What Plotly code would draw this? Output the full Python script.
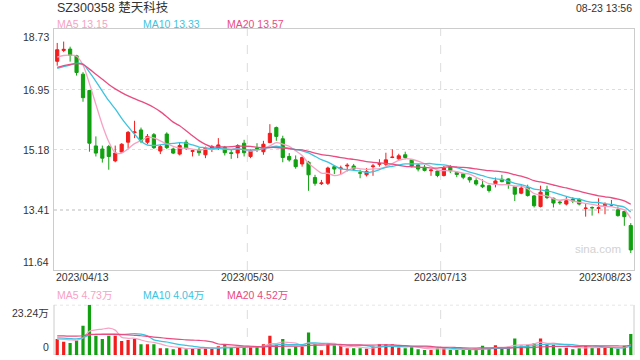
import plotly.graph_objects as go
import pandas as pd

# ---------------- data ----------------
dates = [
    "2023/04/13", "2023/04/14", "2023/04/17", "2023/04/18", "2023/04/19", "2023/04/20", "2023/04/21",
    "2023/04/24", "2023/04/25", "2023/04/26", "2023/04/27", "2023/04/28",
    "2023/05/04", "2023/05/05", "2023/05/08", "2023/05/09", "2023/05/10", "2023/05/11", "2023/05/12",
    "2023/05/15", "2023/05/16", "2023/05/17", "2023/05/18", "2023/05/19", "2023/05/22", "2023/05/23",
    "2023/05/24", "2023/05/25", "2023/05/26", "2023/05/29", "2023/05/30", "2023/05/31",
    "2023/06/01", "2023/06/02", "2023/06/05", "2023/06/06", "2023/06/07", "2023/06/08", "2023/06/09",
    "2023/06/12", "2023/06/13", "2023/06/14", "2023/06/15", "2023/06/16", "2023/06/19", "2023/06/20",
    "2023/06/21", "2023/06/26", "2023/06/27", "2023/06/28", "2023/06/29", "2023/06/30",
    "2023/07/03", "2023/07/04", "2023/07/05", "2023/07/06", "2023/07/07", "2023/07/10", "2023/07/11",
    "2023/07/12", "2023/07/13", "2023/07/14", "2023/07/17", "2023/07/18", "2023/07/19", "2023/07/20",
    "2023/07/21", "2023/07/24", "2023/07/25", "2023/07/26", "2023/07/27", "2023/07/28", "2023/07/31",
    "2023/08/01", "2023/08/02", "2023/08/03", "2023/08/04", "2023/08/07", "2023/08/08", "2023/08/09",
    "2023/08/10", "2023/08/11", "2023/08/14", "2023/08/15", "2023/08/16", "2023/08/17", "2023/08/18",
    "2023/08/21", "2023/08/22", "2023/08/23",
]

open_ = [17.78, 18.10, 18.14, 17.94, 17.40, 16.92, 15.29, 15.20, 15.27, 14.85,
         15.11, 15.40, 15.68, 15.76, 15.40, 15.62, 15.14, 15.64, 15.20, 15.05,
         15.40, 15.13, 15.17, 15.03, 15.22, 15.22, 15.25, 15.09, 15.08, 15.37,
         14.98, 15.23, 15.12, 15.39, 15.83, 15.50, 14.98, 14.88, 14.76, 14.81,
         14.36, 14.18, 14.19, 14.68, 14.62, 14.70, 14.70, 14.50, 14.44, 14.68,
         14.75, 14.75, 14.95, 14.91, 15.03, 14.88, 14.73, 14.66, 14.56, 14.55,
         14.42, 14.68, 14.51, 14.47, 14.36, 14.27, 14.14, 14.12, 14.18, 14.31,
         14.32, 14.09, 13.90, 14.07, 13.82, 13.51, 14.00, 13.75, 13.64, 13.58,
         13.72, 13.72, 13.45, 13.48, 13.45, 13.53, 13.56, 13.41, 13.36, 12.95]
high = [18.32, 18.36, 18.21, 17.97, 17.46, 16.94, 15.57, 15.30, 15.32, 15.30,
        15.37, 15.73, 16.03, 15.83, 15.64, 15.67, 15.32, 15.69, 15.24, 15.40,
        15.47, 15.17, 15.24, 15.27, 15.32, 15.52, 15.29, 15.17, 15.34, 15.47,
        15.19, 15.37, 15.44, 15.93, 15.86, 15.59, 15.08, 15.01, 14.98, 14.85,
        14.44, 14.29, 14.68, 14.70, 14.71, 14.78, 14.76, 14.59, 14.64, 14.76,
        14.90, 15.09, 15.19, 15.06, 15.12, 14.90, 14.76, 14.73, 14.61, 14.58,
        14.70, 14.73, 14.54, 14.49, 14.39, 14.34, 14.31, 14.15, 14.36, 14.44,
        14.34, 14.12, 14.17, 14.15, 13.85, 14.12, 14.12, 13.77, 13.70, 13.80,
        13.78, 13.75, 13.58, 13.51, 13.75, 13.63, 13.70, 13.51, 13.38, 13.02]
low = [17.65, 18.05, 17.77, 17.36, 16.59, 15.12, 14.98, 14.80, 14.59, 14.81,
       15.08, 15.22, 15.52, 15.37, 15.34, 15.20, 15.05, 15.20, 15.05, 15.01,
       15.17, 14.98, 15.00, 14.93, 15.11, 15.17, 15.01, 14.91, 14.93, 14.98,
       14.93, 15.11, 15.03, 15.37, 15.44, 14.81, 14.83, 14.62, 14.68, 13.97,
       14.12, 14.14, 14.14, 14.46, 14.46, 14.54, 14.57, 14.34, 14.39, 14.41,
       14.68, 14.70, 14.93, 14.88, 14.90, 14.66, 14.54, 14.54, 14.41, 14.37,
       14.39, 14.49, 14.37, 14.31, 14.21, 14.12, 14.05, 13.92, 14.07, 14.22,
       14.03, 13.67, 13.87, 13.80, 13.48, 13.48, 13.73, 13.48, 13.56, 13.54,
       13.61, 13.54, 13.21, 13.24, 13.31, 13.28, 13.51, 13.21, 12.94, 12.14]
close = [18.12, 18.13, 17.95, 17.45, 16.71, 15.37, 15.08, 14.93, 14.98, 15.08,
         15.34, 15.69, 15.70, 15.42, 15.57, 15.24, 15.27, 15.24, 15.08, 15.30,
         15.22, 15.15, 15.09, 15.22, 15.27, 15.32, 15.09, 15.07, 15.30, 15.09,
         15.15, 15.21, 15.34, 15.66, 15.57, 14.95, 14.88, 14.68, 14.95, 14.44,
         14.19, 14.20, 14.64, 14.61, 14.64, 14.72, 14.61, 14.49, 14.54, 14.70,
         14.77, 14.88, 14.96, 15.00, 14.95, 14.70, 14.61, 14.57, 14.58, 14.42,
         14.64, 14.56, 14.45, 14.37, 14.29, 14.17, 14.09, 13.98, 14.26, 14.24,
         14.17, 13.87, 14.05, 13.83, 13.53, 13.93, 13.77, 13.61, 13.62, 13.68,
         13.67, 13.58, 13.46, 13.47, 13.47, 13.57, 13.55, 13.24, 13.21, 12.23]
# volume in 万 (10k shares)
volume = [7.38, 6.12, 5.50, 6.75, 13.50, 23.24, 8.95, 7.38, 8.95, 8.95,
          6.44, 6.91, 7.38, 5.02, 5.02, 5.02, 3.14, 3.14, 2.67, 3.45,
          2.67, 3.14, 3.14, 3.14, 3.14, 4.00, 4.60, 3.45, 3.93, 3.93,
          3.93, 3.93, 5.02, 8.95, 4.71, 7.38, 2.83, 3.77, 3.77, 10.36,
          5.02, 2.20, 5.02, 4.40, 4.24, 3.14, 3.14, 3.14, 2.83, 3.93,
          5.02, 5.02, 5.02, 3.45, 3.14, 3.61, 2.67, 2.36, 2.36, 3.14,
          3.45, 2.36, 2.36, 2.36, 2.36, 2.67, 4.24, 3.14, 4.55, 3.14,
          3.80, 7.60, 4.40, 4.70, 5.40, 7.60, 4.90, 4.70, 3.00, 3.30,
          2.60, 3.10, 4.50, 3.40, 3.30, 3.20, 3.50, 2.90, 4.30, 9.75]

# moving-average values before each window is full
ma5_head = [17.90, 17.95, 17.96, 17.93]
ma10_head = [17.57, 17.62, 17.67, 17.72, 17.70, 17.46, 17.19, 16.90, 16.62]
ma20_head = [17.60, 17.65, 17.69, 17.71, 17.69, 17.55, 17.40, 17.25, 17.10, 16.97,
             16.86, 16.76, 16.68, 16.60, 16.52, 16.42, 16.30, 16.15, 15.99]
vma5_head = [7.3, 7.2, 7.0, 6.9]
vma10_head = [7.9, 7.8, 7.6, 7.5, 8.0, 9.3, 9.5, 9.6, 9.7]
vma20_head = [8.8, 8.8, 8.7, 8.7, 8.9, 9.5, 9.5, 9.5, 9.5, 9.5,
              9.4, 9.3, 9.1, 8.9, 8.6, 8.3, 8.0, 7.7, 7.45]

# legend values as printed on the chart
price_ma_labels = ["MA5", "MA10", "MA20"]
price_ma_last = [13.15, 13.33, 13.57]
vol_ma_last = [4.73, 4.04, 4.52]
price_ticks = [18.73, 16.95, 15.18, 13.41, 11.64]
vol_top = 23.24
xtick_idx = [0, 30, 60, 89]
title = "SZ300358 楚天科技"
stamp = "08-23 13:56"

# ---------------- styling ----------------
RED = "#f21d1d"
GREEN = "#10a010"
MA_COLORS = ["#f7a2c3", "#3cc3df", "#ea4b80"]
FONT = "Liberation Sans, Arial, Noto Sans CJK SC, sans-serif"
TXT = "#333333"
FRAME = "#cccccc"
GRID = "#dddddd"

W_FIG, H_FIG = 640, 360
L, R, T, B = 54, 6, 29, 5
PW, PH = W_FIG - L - R, H_FIG - T - B


def px(x):
    return (x - L) / PW


def py(y):
    return (H_FIG - B - y) / PH


def with_head(values, n, head):
    out = pd.Series(values).rolling(n).mean().tolist()
    for i, v in enumerate(head):
        out[i] = v
    return out


ma_price = [with_head(close, 5, ma5_head), with_head(close, 10, ma10_head),
            with_head(close, 20, ma20_head)]
ma_vol = [with_head(volume, 5, vma5_head), with_head(volume, 10, vma10_head),
          with_head(volume, 20, vma20_head)]

fig = go.Figure()

fig.add_trace(go.Candlestick(
    x=dates, open=open_, high=high, low=low, close=close,
    increasing=dict(line=dict(color=RED, width=1), fillcolor=RED),
    decreasing=dict(line=dict(color=GREEN, width=1), fillcolor=GREEN),
    whiskerwidth=0, xaxis="x", yaxis="y", hoverinfo="skip",
))
for vals, col in zip(ma_price, MA_COLORS):
    fig.add_trace(go.Scatter(x=dates, y=vals, mode="lines",
                             line=dict(color=col, width=1.3, shape="spline", smoothing=0.8),
                             xaxis="x", yaxis="y", hoverinfo="skip"))

bar_colors = [RED if c >= o else GREEN for o, c in zip(open_, close)]
fig.add_trace(go.Bar(x=dates, y=volume, marker=dict(color=bar_colors, line=dict(width=0)),
                     xaxis="x2", yaxis="y2", hoverinfo="skip"))
for vals, col in zip(ma_vol, MA_COLORS):
    fig.add_trace(go.Scatter(x=dates, y=vals, mode="lines",
                             line=dict(color=col, width=1.2, shape="spline", smoothing=0.8),
                             xaxis="x2", yaxis="y2", hoverinfo="skip"))

main_dom = [py(270), 1.0]
vol_dom = [0.0, py(304.7)]
n = len(dates)
xr = [-0.5, n - 0.5]

fig.update_layout(
    width=W_FIG, height=H_FIG,
    margin=dict(l=L, r=R, t=T, b=B),
    paper_bgcolor="white", plot_bgcolor="white",
    showlegend=False, bargap=0.5, boxgap=0.3,
    font=dict(family=FONT, size=11, color=TXT),
    xaxis=dict(domain=[0, 1], type="category", range=xr, anchor="y",
               showticklabels=False, ticks="", showgrid=False, zeroline=False,
               showline=True, mirror=True, linecolor=FRAME, linewidth=1,
               rangeslider=dict(visible=False), fixedrange=True),
    yaxis=dict(domain=main_dom, range=[price_ticks[-1], price_ticks[0]], anchor="x",
               tickmode="array", tickvals=price_ticks[1:-1], showticklabels=False, ticks="",
               showgrid=True, gridcolor=GRID, griddash="dot", gridwidth=1.5, zeroline=False,
               showline=True, mirror=True, linecolor=FRAME, linewidth=1, fixedrange=True),
    xaxis2=dict(domain=[0, 1], type="category", range=xr, anchor="y2",
                showticklabels=False, ticks="", showgrid=False, zeroline=False,
                showline=False, fixedrange=True),
    yaxis2=dict(domain=vol_dom, range=[0, vol_top], anchor="x2",
                showticklabels=False, ticks="", showgrid=False, zeroline=False,
                showline=False, fixedrange=True),
)

shapes = []
# vertical dashed date separators (between candles)
for k in xtick_idx[1:-1]:
    for xa, ya in (("x", "y"), ("x2", "y2")):
        top = price_ticks[0] if ya == "y" else vol_top
        shapes.append(dict(type="line", xref=xa, yref=ya, x0=k - 0.5, x1=k - 0.5,
                           y0=0 if ya == "y2" else price_ticks[-1], y1=top,
                           line=dict(color=GRID, width=1, dash="dash"), layer="below"))
# volume panel frame
shapes.append(dict(type="line", xref="paper", yref="y2", x0=0, x1=0, y0=0, y1=vol_top,
                   line=dict(color=FRAME, width=1)))
shapes.append(dict(type="line", xref="paper", yref="y2", x0=1, x1=1, y0=0, y1=vol_top,
                   line=dict(color=FRAME, width=1)))
for yv in (0, vol_top):
    shapes.append(dict(type="line", xref="paper", yref="y2", x0=0, x1=1, y0=yv, y1=yv,
                       line=dict(color=GRID, width=1.5, dash="dot"), layer="below"))
fig.update_layout(shapes=shapes)

ann = []
ann.append(dict(text=title, xref="paper", yref="paper", x=px(55), y=py(8),
                xanchor="left", yanchor="middle", showarrow=False,
                font=dict(size=12.5, color=TXT)))
ann.append(dict(text=stamp, xref="paper", yref="paper", x=1, y=py(8),
                xanchor="right", yanchor="middle", showarrow=False,
                font=dict(size=10.5, color=TXT)))
leg_x = [55, 140.5, 225]
for name, v, col, lx in zip(price_ma_labels, price_ma_last, MA_COLORS, leg_x):
    ann.append(dict(text=f"{name} {v:.2f}", xref="paper", yref="paper", x=px(lx), y=py(24),
                    xanchor="left", yanchor="middle", showarrow=False,
                    font=dict(size=10.5, color=col)))
for name, v, col, lx in zip(price_ma_labels, vol_ma_last, MA_COLORS, leg_x):
    ann.append(dict(text=f"{name} {v:.2f}万", xref="paper", yref="paper", x=px(lx), y=py(295),
                    xanchor="left", yanchor="middle", showarrow=False,
                    font=dict(size=10.5, color=col)))
for i, t in enumerate(price_ticks):
    ya = "top" if i == 0 else ("bottom" if i == len(price_ticks) - 1 else "middle")
    ann.append(dict(text=f"{t:.2f}", xref="paper", yref="y", x=0, y=t, xshift=-3,
                    xanchor="right", yanchor=ya, showarrow=False,
                    font=dict(size=10.5, color=TXT)))
ann.append(dict(text=f"{vol_top:.2f}万", xref="paper", yref="y2", x=0, y=vol_top, xshift=-3,
                xanchor="right", yanchor="top", showarrow=False, font=dict(size=10.5, color=TXT)))
ann.append(dict(text="0", xref="paper", yref="y2", x=0, y=0, xshift=-3,
                xanchor="right", yanchor="bottom", showarrow=False, font=dict(size=10.5, color=TXT)))
for j, k in enumerate(xtick_idx):
    if j == 0:
        a = dict(xref="paper", x=0, xanchor="left")
    elif j == len(xtick_idx) - 1:
        a = dict(xref="paper", x=1, xanchor="right")
    else:
        a = dict(xref="x", x=k - 0.5, xanchor="center")
    ann.append(dict(text=dates[k], yref="paper", y=py(277), yanchor="middle",
                    showarrow=False, font=dict(size=10.5, color=TXT), **a))
ann.append(dict(text="sina.com", xref="paper", yref="paper", x=px(623), y=py(249),
                xanchor="right", yanchor="middle", showarrow=False,
                font=dict(size=11.5, color="#d2d2d2")))
fig.update_layout(annotations=ann)

fig.write_html("out.html", config=dict(staticPlot=True, displayModeBar=False),
               post_script="document.body.style.margin='0px';document.body.style.overflow='hidden';")
